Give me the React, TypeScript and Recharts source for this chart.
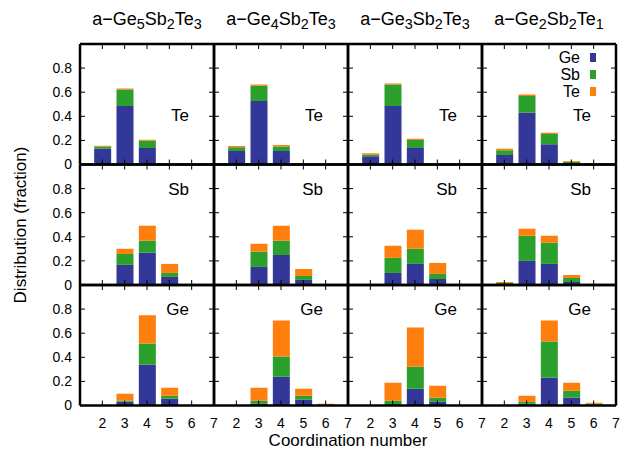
import React from 'react';
import { BarChart, Bar, XAxis, YAxis } from 'recharts';

// ---------- data ----------
const coordination = [2, 3, 4, 5, 6];
const xTicks = [2, 3, 4, 5, 6, 7];
const yTicks = [0, 0.2, 0.4, 0.6, 0.8];
const centers = ['Te', 'Sb', 'Ge'];
const species = ['Ge', 'Sb', 'Te'];
const compositions = [
  ['5', '2', '3'],
  ['4', '2', '3'],
  ['3', '2', '3'],
  ['2', '2', '1'],
];

// a-Ge5Sb2Te3
const g5_Te_Ge = [0.13, 0.486, 0.136, 0, 0];
const g5_Te_Sb = [0.02, 0.136, 0.061, 0, 0];
const g5_Te_Te = [0.006, 0.008, 0.008, 0.004, 0];
const g5_Sb_Ge = [0, 0.167, 0.267, 0.067, 0];
const g5_Sb_Sb = [0, 0.091, 0.1, 0.033, 0];
const g5_Sb_Te = [0, 0.042, 0.125, 0.075, 0.003];
const g5_Ge_Ge = [0, 0.031, 0.339, 0.056, 0];
const g5_Ge_Sb = [0, 0.008, 0.175, 0.025, 0];
const g5_Ge_Te = [0, 0.058, 0.236, 0.066, 0];

// a-Ge4Sb2Te3
const g4_Te_Ge = [0.111, 0.528, 0.111, 0, 0];
const g4_Te_Sb = [0.033, 0.125, 0.039, 0, 0];
const g4_Te_Te = [0.009, 0.011, 0.011, 0.01, 0];
const g4_Sb_Ge = [0, 0.15, 0.25, 0.042, 0];
const g4_Sb_Sb = [0, 0.125, 0.117, 0.033, 0];
const g4_Sb_Te = [0, 0.067, 0.125, 0.058, 0];
const g4_Ge_Ge = [0, 0.017, 0.239, 0.047, 0];
const g4_Ge_Sb = [0, 0.022, 0.167, 0.034, 0];
const g4_Ge_Te = [0, 0.108, 0.3, 0.058, 0.014];

// a-Ge3Sb2Te3
const g3_Te_Ge = [0.069, 0.486, 0.136, 0, 0];
const g3_Te_Sb = [0.014, 0.178, 0.067, 0, 0];
const g3_Te_Te = [0.011, 0.008, 0.011, 0.008, 0];
const g3_Sb_Ge = [0, 0.1, 0.175, 0.05, 0];
const g3_Sb_Sb = [0, 0.125, 0.125, 0.042, 0];
const g3_Sb_Te = [0.008, 0.1, 0.158, 0.091, 0];
const g3_Ge_Ge = [0, 0.002, 0.139, 0.031, 0];
const g3_Ge_Sb = [0, 0.037, 0.183, 0.033, 0];
const g3_Ge_Te = [0, 0.15, 0.325, 0.1, 0];

// a-Ge2Sb2Te1
const g2_Te_Ge = [0.078, 0.43, 0.169, 0.005, 0];
const g2_Te_Sb = [0.041, 0.139, 0.084, 0.017, 0];
const g2_Te_Te = [0.011, 0.011, 0.011, 0.008, 0];
const g2_Sb_Ge = [0.003, 0.2, 0.175, 0.025, 0];
const g2_Sb_Sb = [0.014, 0.208, 0.175, 0.033, 0];
const g2_Sb_Te = [0.008, 0.059, 0.058, 0.025, 0];
const g2_Ge_Ge = [0, 0.014, 0.231, 0.064, 0.006];
const g2_Ge_Sb = [0, 0.017, 0.3, 0.058, 0.008];
const g2_Ge_Te = [0, 0.05, 0.175, 0.067, 0.008];

const build = (ge: number[], sb: number[], te: number[]) =>
  coordination.map((x, i) => ({ x, Ge: ge[i], Sb: sb[i], Te: te[i] }));

// panels[row][col]
const panels = [
  [build(g5_Te_Ge, g5_Te_Sb, g5_Te_Te), build(g4_Te_Ge, g4_Te_Sb, g4_Te_Te), build(g3_Te_Ge, g3_Te_Sb, g3_Te_Te), build(g2_Te_Ge, g2_Te_Sb, g2_Te_Te)],
  [build(g5_Sb_Ge, g5_Sb_Sb, g5_Sb_Te), build(g4_Sb_Ge, g4_Sb_Sb, g4_Sb_Te), build(g3_Sb_Ge, g3_Sb_Sb, g3_Sb_Te), build(g2_Sb_Ge, g2_Sb_Sb, g2_Sb_Te)],
  [build(g5_Ge_Ge, g5_Ge_Sb, g5_Ge_Te), build(g4_Ge_Ge, g4_Ge_Sb, g4_Ge_Te), build(g3_Ge_Ge, g3_Ge_Sb, g3_Ge_Te), build(g2_Ge_Ge, g2_Ge_Sb, g2_Ge_Te)],
];

// ---------- layout ----------
const W = 635;
const H = 454;
const X0 = 80;
const PW = 134;
const Y0 = 44;
const PH = 120.5;
const FONT = '"Liberation Sans", Arial, Helvetica, sans-serif';
const COLORS: Record<string, string> = { Ge: '#333797', Sb: '#2ca02c', Te: '#ff7f0e' };
const labelCenterY = [115, 189, 309];

const blank = () => '';
const axisLine = { stroke: '#000', strokeWidth: 2.5 };
const tickLine = { stroke: '#000', strokeWidth: 1 };

function Panel({ data, row, col }: { data: any[]; row: number; col: number }) {
  const left = X0 + col * PW;
  const top = Y0 + row * PH;
  const margin = {
    left: left - 40,
    right: W - (left + PW) - 10,
    top: top - 10,
    bottom: H - (top + PH) - 30,
  };
  const showX = row === 2;
  const showY = col === 0;
  const tickStyle = { fill: '#000', fontSize: 14, fontFamily: FONT };
  return (
    <div style={{ position: 'absolute', left: 0, top: 0 }}>
      <BarChart width={W} height={H} data={data} margin={margin}>
        <XAxis
          xAxisId="b"
          dataKey="x"
          type="number"
          orientation="bottom"
          domain={[1, 7]}
          allowDataOverflow
          ticks={xTicks}
          interval={0}
          height={30}
          tickSize={-5}
          tickMargin={18}
          axisLine={axisLine}
          tickLine={tickLine}
          tick={tickStyle}
          tickFormatter={showX ? (v: number) => String(v) : blank}
        />
        <XAxis
          xAxisId="t"
          dataKey="x"
          type="number"
          orientation="top"
          domain={[1, 7]}
          allowDataOverflow
          ticks={xTicks}
          interval={0}
          height={10}
          tickSize={-5}
          axisLine={axisLine}
          tickLine={tickLine}
          tick={tickStyle}
          tickFormatter={blank}
        />
        <YAxis
          yAxisId="l"
          type="number"
          orientation="left"
          domain={[0, 1]}
          allowDataOverflow
          ticks={yTicks}
          interval={0}
          width={40}
          tickSize={-5}
          tickMargin={13}
          axisLine={axisLine}
          tickLine={tickLine}
          tick={tickStyle}
          tickFormatter={showY ? (v: number) => String(v) : blank}
        />
        <YAxis
          yAxisId="r"
          type="number"
          orientation="right"
          domain={[0, 1]}
          allowDataOverflow
          ticks={yTicks}
          interval={0}
          width={10}
          tickSize={-5}
          axisLine={axisLine}
          tickLine={tickLine}
          tick={tickStyle}
          tickFormatter={blank}
        />
        {species.map((s) => (
          <Bar
            key={s}
            xAxisId="b"
            yAxisId="l"
            dataKey={s}
            stackId="stack"
            fill={COLORS[s]}
            barSize={17}
            isAnimationActive={false}
          />
        ))}
      </BarChart>
    </div>
  );
}

function Title({ parts, col }: { parts: string[]; col: number }) {
  const sub: React.CSSProperties = { fontSize: '0.8em', position: 'relative', top: '0.3em' };
  return (
    <div
      style={{
        position: 'absolute',
        left: X0 + col * PW + PW / 2,
        top: 10,
        transform: 'translateX(-50%)',
        whiteSpace: 'nowrap',
        fontSize: 18,
        lineHeight: 1,
        fontFamily: FONT,
        color: '#000',
      }}
    >
      a−Ge<span style={sub}>{parts[0]}</span>Sb<span style={sub}>{parts[1]}</span>Te
      <span style={sub}>{parts[2]}</span>
    </div>
  );
}

export default function App() {
  const labelSize = 17;
  const legendSize = 16;
  return (
    <div
      style={{
        position: 'absolute',
        left: 0,
        top: 0,
        width: W,
        height: H,
        background: '#fff',
        overflow: 'hidden',
        fontFamily: FONT,
      }}
    >
      {panels.map((rowData, r) =>
        rowData.map((d, c) => <Panel key={`${r}-${c}`} data={d} row={r} col={c} />)
      )}
      {compositions.map((p, c) => (
        <Title key={c} parts={p} col={c} />
      ))}
      {panels.map((rowData, r) =>
        rowData.map((_, c) => (
          <div
            key={`lbl-${r}-${c}`}
            style={{
              position: 'absolute',
              right: W - (X0 + (c + 1) * PW - 25),
              top: labelCenterY[r] - labelSize / 2,
              fontSize: labelSize,
              lineHeight: 1,
              color: '#000',
              whiteSpace: 'nowrap',
            }}
          >
            {centers[r]}
          </div>
        ))
      )}
      {/* legend */}
      {species.map((s, i) => (
        <React.Fragment key={`leg-${s}`}>
          <div
            style={{
              position: 'absolute',
              right: W - 580,
              top: 57.5 + i * 17 - 7.5,
              fontSize: legendSize,
              lineHeight: '15px',
              height: 15,
              color: '#000',
            }}
          >
            {s}
          </div>
          <div
            style={{
              position: 'absolute',
              left: 590,
              top: 53 + i * 17,
              width: 6,
              height: 9,
              background: COLORS[s],
            }}
          />
        </React.Fragment>
      ))}
      <div
        style={{
          position: 'absolute',
          left: 20,
          top: 225,
          transform: 'translate(-50%, -50%) rotate(-90deg)',
          whiteSpace: 'nowrap',
          fontSize: 17,
          lineHeight: 1,
          color: '#000',
        }}
      >
        Distribution (fraction)
      </div>
      <div
        style={{
          position: 'absolute',
          left: 348,
          top: 440,
          transform: 'translate(-50%, -50%)',
          whiteSpace: 'nowrap',
          fontSize: 17,
          lineHeight: 1,
          color: '#000',
        }}
      >
        Coordination number
      </div>
    </div>
  );
}
